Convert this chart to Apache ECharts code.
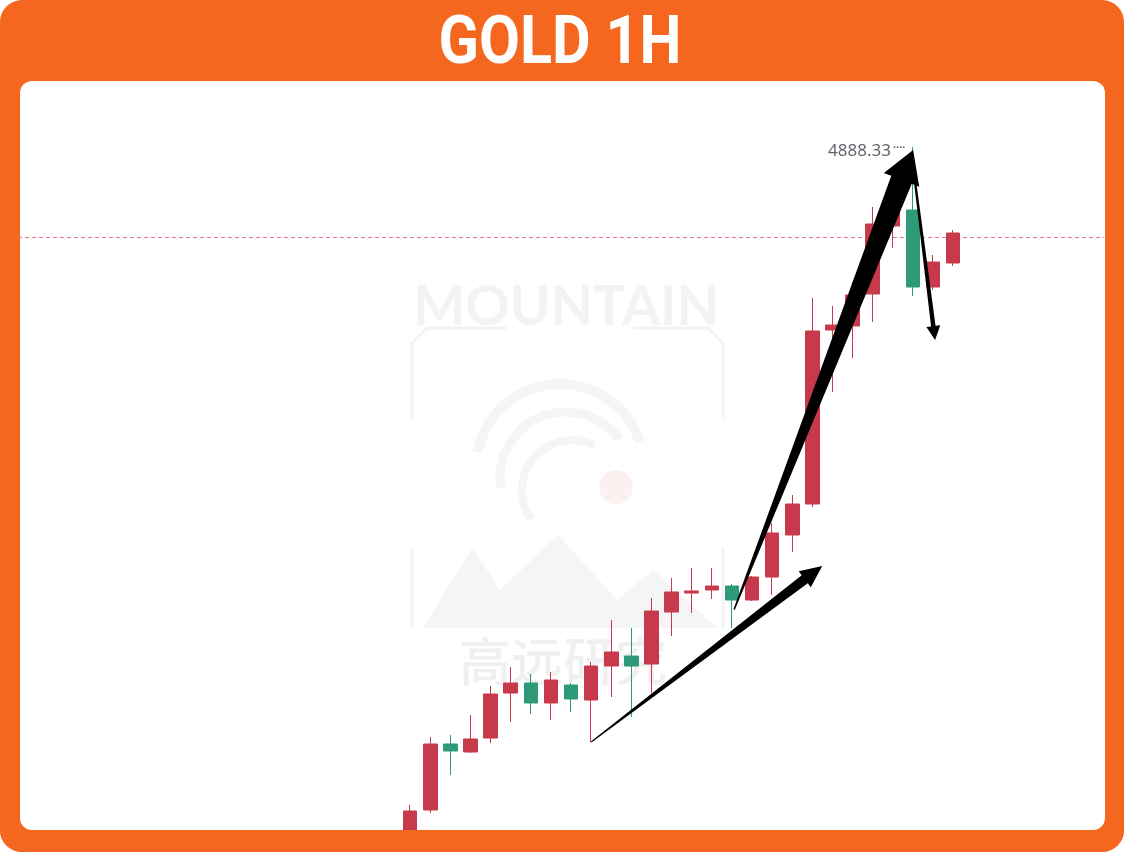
<!DOCTYPE html>
<html><head><meta charset="utf-8">
<script src="https://cdn.jsdelivr.net/npm/echarts@6/dist/echarts.min.js"></script>
<style>html,body{margin:0;padding:0;background:#fff}#c{width:1124px;height:852px}</style>
</head><body><div id="c"></div>
<script>
// ---- data ----
const chartTitle = 'GOLD 1H';
const hours = ['01-20 08:00','09:00','10:00','11:00','12:00','13:00','14:00','15:00','16:00','17:00','18:00','19:00','20:00','21:00','22:00','23:00','01-21 00:00','01:00','02:00','03:00','04:00','05:00','06:00','07:00','08:00','09:00','10:00','11:00'];
const openP  = [4609.13,4623.13,4649.53,4646.33,4651.93,4669.93,4673.93,4665.93,4673.13,4667.13,4680.73,4684.73,4681.53,4702.33,4709.93,4711.13,4712.73,4707.13,4716.33,4733.13,4745.53,4815.13,4816.73,4829.53,4856.73,4863.13,4832.33,4841.93];
const closeP = [4622.73,4649.53,4646.73,4651.53,4669.53,4673.93,4665.93,4675.13,4667.53,4680.73,4686.33,4680.73,4702.73,4710.33,4710.73,4712.73,4707.13,4716.33,4733.93,4745.53,4814.73,4817.13,4829.13,4857.53,4863.13,4832.33,4842.33,4853.93];
const lowP   = [4607.13,4621.93,4637.13,4645.93,4649.93,4658.33,4661.53,4659.13,4662.33,4650.33,4668.33,4660.33,4669.93,4692.73,4701.93,4707.53,4695.93,4706.73,4709.13,4726.33,4744.33,4790.33,4803.93,4818.33,4847.93,4828.73,4831.13,4840.73];
const highP  = [4625.13,4652.33,4653.13,4661.13,4672.73,4680.33,4677.53,4678.33,4673.93,4682.33,4699.13,4695.93,4707.93,4715.93,4719.93,4719.93,4713.53,4716.73,4737.93,4749.13,4827.93,4824.73,4834.33,4864.33,4865.13,4888.33,4845.13,4855.13];
const lastPrice = 4852.33;
const peakIndex = 25;
const watermarkLatin = 'MOUNTAIN';
const watermarkCJK = '高远研究';
// hand-drawn arrows, anchored in data space: [candle index (fractional), price]
const arrowFrom = [[9, 4650.33],[16.11, 4703.33],[25.0, 4881.13]];
const arrowTo   = [[20.49, 4720.73],[25.01, 4887.13],[26.1, 4811.13]];

// ---- layout ----
const padLeft = 19, padRight = 7;
const yMin = 4615.13, yMax = 4914.73;
const RED = '#c73a4b', GREEN = '#2e9a7a', ORANGE = '#F5661F';

const cats = [];
const kdata = [];
for (let i = 0; i < padLeft; i++) { cats.push('p' + i); kdata.push(['-','-','-','-']); }
hours.forEach((h, j) => { cats.push(h); kdata.push([openP[j], closeP[j], lowP[j], highP[j]]); });
for (let i = 0; i < padRight; i++) { cats.push('q' + i); kdata.push(['-','-','-','-']); }

const chart = echarts.init(document.getElementById('c'), null, {renderer: 'canvas'});
const base = {
  animation: false,
  backgroundColor: '#ffffff',
  grid: {left: 18, right: 20, top: 81, bottom: 22, containLabel: false},
  xAxis: {type: 'category', data: cats, boundaryGap: true, show: false},
  yAxis: {type: 'value', min: yMin, max: yMax, show: false, splitLine: {show: false}},
  series: [{
    type: 'candlestick', data: kdata, clip: true, barWidth: 14, z: 5,
    itemStyle: {color: RED, color0: GREEN, borderColor: RED, borderColor0: GREEN, borderWidth: 1},
    markLine: {
      silent: true, symbol: ['none','none'], label: {show: false},
      lineStyle: {color: '#e0768e', type: [4,3], width: 1, opacity: 1},
      data: [{yAxis: lastPrice}]
    }
  }]
};
chart.setOption(base);

function toPx(ci, price) {
  const i0 = Math.floor(ci), f = ci - i0;
  const a = chart.convertToPixel({gridIndex: 0}, [i0 + padLeft, price]);
  const b = chart.convertToPixel({gridIndex: 0}, [i0 + 1 + padLeft, price]);
  return [a[0] + (b[0] - a[0]) * f, a[1]];
}
function arrowPoly(S, T, w0, w1, headLen, headW) {
  const dx = T[0]-S[0], dy = T[1]-S[1], L = Math.hypot(dx, dy);
  const ux = dx/L, uy = dy/L, nx = -uy, ny = ux;
  const B = [T[0]-ux*headLen, T[1]-uy*headLen];
  return [
    [S[0]+nx*w0/2, S[1]+ny*w0/2],
    [B[0]+nx*w1/2, B[1]+ny*w1/2],
    [B[0]+nx*headW/2, B[1]+ny*headW/2],
    T,
    [B[0]-nx*headW/2, B[1]-ny*headW/2],
    [B[0]-nx*w1/2, B[1]-ny*w1/2],
    [S[0]-nx*w0/2, S[1]-ny*w0/2]
  ];
}
const arrowStyle = [
  {w0: 1, w1: 10, headLen: 22, headW: 20},
  {w0: 1.5, w1: 22, headLen: 32, headW: 38},
  {w0: 2, w1: 4.5, headLen: 14, headW: 14}
];

const WM = '#f3f3f3';
const g = [
  {type: 'rect', z: -10, shape: {x: 0, y: 0, width: 1124, height: 852, r: 22}, style: {fill: ORANGE}},
  {type: 'rect', z: -9, shape: {x: 20, y: 81, width: 1085, height: 749, r: 12}, style: {fill: '#ffffff'}},
  // bottom frame strip drawn over the series so candles are cut at the panel edge
  {type: 'rect', z: 30, shape: {x: 0, y: 830, width: 1124, height: 22, r: [0, 0, 22, 22]}, style: {fill: ORANGE}},
  {type: 'text', z: 31, x: 560, y: 46, scaleX: 0.9, style: {text: chartTitle, font: '700 66px Roboto', fill: '#ffffff', align: 'center', verticalAlign: 'middle'}},
  // watermark
  {type: 'text', z: -5, x: 566, y: 307, style: {text: watermarkLatin, font: '700 55px Lato', fill: WM, align: 'center', verticalAlign: 'middle'}},
  {type: 'polyline', z: -5, shape: {points: [[507,328],[427,328],[412,343],[412,418]]}, style: {stroke: WM, lineWidth: 3, fill: null}},
  {type: 'polyline', z: -5, shape: {points: [[633,328],[708,328],[723,343],[723,418]]}, style: {stroke: WM, lineWidth: 3, fill: null}},
  {type: 'polyline', z: -5, shape: {points: [[412,548],[412,628]]}, style: {stroke: WM, lineWidth: 3, fill: null}},
  {type: 'polyline', z: -5, shape: {points: [[723,548],[723,628]]}, style: {stroke: WM, lineWidth: 3, fill: null}},
  {type: 'polygon', z: -5, shape: {points: [[423,628],[472,548],[500,590],[558,535],[617,600],[653,570],[717,628]]}, style: {fill: '#f5f5f5'}},
  {type: 'arc', z: -5, shape: {cx: 560, cy: 468, r: 84, startAngle: Math.PI*1.06, endAngle: Math.PI*1.9}, style: {stroke: '#f5f5f5', lineWidth: 10, fill: null}},
  {type: 'arc', z: -5, shape: {cx: 566, cy: 478, r: 66, startAngle: Math.PI*0.95, endAngle: Math.PI*1.8}, style: {stroke: '#f5f5f5', lineWidth: 9, fill: null}},
  {type: 'arc', z: -5, shape: {cx: 572, cy: 490, r: 50, startAngle: Math.PI*0.8, endAngle: Math.PI*1.65}, style: {stroke: '#f5f5f5', lineWidth: 8, fill: null}},
  {type: 'circle', z: -5, shape: {cx: 616, cy: 487, r: 17}, style: {fill: '#fcf1f0'}},
  {type: 'text', z: -5, x: 563, y: 661, style: {text: watermarkCJK, font: '500 52px "Noto Sans CJK SC"', fill: '#f0f0f0', align: 'center', verticalAlign: 'middle'}}
];

arrowFrom.forEach((f, k) => {
  const S = toPx(f[0], f[1]);
  const T = toPx(arrowTo[k][0], arrowTo[k][1]);
  const s = arrowStyle[k];
  g.push({type: 'polygon', z: 20, shape: {points: arrowPoly(S, T, s.w0, s.w1, s.headLen, s.headW)}, style: {fill: '#000000'}});
});

const pk = toPx(peakIndex, highP[peakIndex]);
g.push({type: 'text', z: 19, x: pk[0] - 22, y: pk[1] + 4.5, style: {text: highP[peakIndex].toFixed(2), font: '17px "Noto Sans"', fill: '#62666e', align: 'right', verticalAlign: 'middle'}});
g.push({type: 'text', z: 19, x: pk[0] - 20, y: pk[1] + 1, style: {text: '····', font: 'bold 11px "Noto Sans"', fill: '#62666e', align: 'left', verticalAlign: 'middle'}});

chart.setOption({graphic: {elements: g}});
</script></body></html>
